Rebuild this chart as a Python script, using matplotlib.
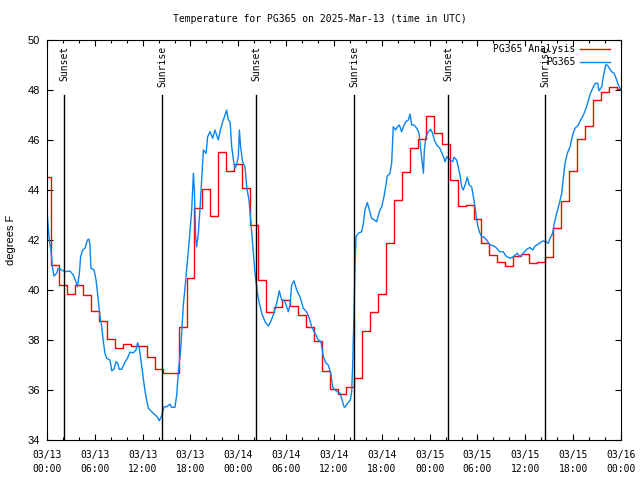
import matplotlib
matplotlib.use("Agg")
import matplotlib.pyplot as plt
import matplotlib.dates as mdates
import numpy as np

START = np.datetime64("2025-03-13T00:00")
RED = "#ff0000"
BLUE = "#0a84f0"
MONO = "DejaVu Sans Mono"
SANS = "Liberation Sans"

# hourly analysis values (hours since start, degrees F)
analysis_hours = np.arange(0, 73)
analysis_temp = [
    44.5, 41.0, 40.2, 39.84, 40.2, 39.8, 39.15, 38.75, 38.03, 37.67,
    37.85, 37.75, 37.75, 37.3, 36.83, 36.68, 36.68, 38.5, 40.47, 43.27,
    44.05, 42.95, 45.5, 44.76, 45.04, 44.07, 42.6, 40.4, 39.1, 39.3,
    39.6, 39.36, 38.99, 38.5, 37.96, 36.75, 36.05, 35.84, 36.1, 36.47,
    38.36, 39.1, 39.84, 41.9, 43.6, 44.72, 45.69, 46.03, 46.96, 46.27,
    45.84, 44.39, 43.36, 43.39, 42.84, 41.87, 41.4, 41.12, 40.97, 41.36,
    41.44, 41.08, 41.1, 41.32, 42.48, 43.57, 44.77, 46.03, 46.56, 47.59,
    47.92, 48.13, 48.03,
]

# station observations (hours since start, degrees F)
obs_hours = [
    0.0, 0.12, 0.29, 0.5, 0.67, 0.88, 1.21, 1.42, 1.84, 2.26, 2.89, 3.3, 3.64, 3.81,
    4.06, 4.22, 4.47, 4.77, 5.06, 5.27, 5.39, 5.52, 5.9, 6.15, 6.44, 6.65, 6.86, 7.07,
    7.27, 7.48, 7.9, 8.11, 8.4, 8.65, 8.86, 9.07, 9.37, 9.78, 10.08, 10.41, 10.83, 11.16,
    11.37, 11.58, 11.79, 12.0, 12.21, 12.42, 12.71, 13.13, 13.55, 13.84, 14.09, 14.38,
    14.68, 15.0, 15.42, 15.63, 16.05, 16.26, 16.49, 16.77, 17.1, 17.39, 17.64, 17.85,
    18.15, 18.36, 18.48, 18.65, 18.77, 18.98, 19.19, 19.4, 19.61, 19.95, 20.15, 20.45,
    20.78, 21.07, 21.49, 21.7, 22.04, 22.33, 22.54, 22.75, 22.96, 23.17, 23.38, 23.58,
    23.79, 24.0, 24.13, 24.29, 24.54, 24.84, 25.05, 25.34, 25.59, 25.8, 26.09, 26.38,
    26.63, 26.93, 27.35, 27.76, 28.05, 28.39, 28.81, 29.14, 29.43, 29.77, 30.06, 30.27,
    30.48, 30.69, 30.98, 31.32, 31.73, 32.15, 32.57, 32.9, 33.2, 33.62, 34.04, 34.37,
    34.66, 35.0, 35.29, 35.58, 35.83, 36.13, 36.42, 36.75, 37.09, 37.25, 37.38, 37.67,
    38.05, 38.22, 38.34, 38.51, 38.64, 38.76, 39.05, 39.47, 39.68, 39.89, 40.18, 40.44,
    40.72, 41.06, 41.35, 41.69, 41.98, 42.27, 42.52, 42.69, 43.02, 43.23, 43.44, 43.74,
    43.95, 44.2, 44.49, 44.7, 45.0, 45.33, 45.54, 45.75, 46.04, 46.38, 46.67, 46.88,
    47.13, 47.21, 47.33, 47.54, 47.83, 48.12, 48.37, 48.58, 48.88, 49.29, 49.72, 49.93,
    50.14, 50.55, 50.88, 51.05, 51.39, 51.59, 51.8, 52.01, 52.22, 52.43, 52.72, 52.97,
    53.27, 53.48, 53.69, 53.9, 54.11, 54.31, 54.52, 54.73, 55.15, 55.57, 55.99, 56.41,
    56.82, 57.24, 57.57, 58.08, 58.49, 58.99, 59.33, 59.75, 60.17, 60.59, 60.92, 61.21,
    61.63, 62.18, 62.59, 62.89, 63.1, 63.44, 63.64, 63.94, 64.27, 64.56, 64.77, 64.98,
    65.27, 65.61, 65.94, 66.23, 66.65, 66.94, 67.28, 67.61, 67.91, 68.2, 68.53, 68.82,
    69.08, 69.24, 69.58, 69.79, 70.08, 70.29, 70.54, 70.84, 71.13, 71.38, 71.67, 72.0,
]
obs_temp = [
    43.23, 42.67, 42.0, 41.6, 40.93, 40.56, 40.67, 40.87, 40.8, 40.73, 40.76, 40.6, 40.33, 40.13,
    40.67, 41.33, 41.6, 41.67, 42.0, 42.03, 41.8, 40.87, 40.8, 40.4, 39.6, 38.93, 38.53, 37.93,
    37.47, 37.27, 37.2, 36.77, 36.83, 37.13, 37.07, 36.83, 36.83, 37.11, 37.27, 37.51, 37.49, 37.6,
    37.89, 37.67, 37.2, 36.67, 36.13, 35.73, 35.27, 35.13, 35.0, 34.93, 34.77, 34.96,
    35.33, 35.33, 35.43, 35.31, 35.31, 35.8, 36.75, 37.6, 39.4, 40.33, 41.2, 42.0,
    43.2, 44.67, 44.0, 42.13, 41.73, 42.27, 43.2, 44.4, 45.6, 45.47, 46.13, 46.33,
    46.07, 46.4, 46.0, 46.33, 46.73, 47.0, 47.2, 46.8, 46.73, 45.73, 45.2, 44.87,
    45.0, 45.33, 46.4, 45.73, 45.13, 44.93, 44.13, 43.6, 42.67, 41.8, 40.7, 39.9,
    39.47, 39.07, 38.73, 38.56, 38.73, 39.0, 39.47, 39.97, 39.6, 39.6, 39.33, 39.13,
    39.4, 40.2, 40.37, 40.0, 39.73, 39.27, 39.13, 38.87, 38.53, 38.27, 38.0, 37.93,
    37.33, 37.07, 37.0, 36.67, 36.13, 36.0, 35.93, 35.87, 35.53, 35.33, 35.31, 35.45,
    35.6, 35.93, 36.93, 39.2, 41.0, 42.13, 42.27, 42.33, 42.67, 43.2, 43.5, 43.2,
    42.87, 42.8, 42.73, 43.13, 43.33, 43.73, 44.2, 44.56, 44.67, 45.07, 46.53, 46.4,
    46.53, 46.6, 46.33, 46.53, 46.73, 46.8, 47.04, 46.6, 46.6, 46.47, 46.27, 45.6,
    44.93, 44.67, 45.6, 46.13, 46.33, 46.43, 46.27, 46.0, 45.8, 45.67, 45.33, 45.13,
    45.33, 45.2, 45.13, 45.31, 45.2, 44.93, 44.6, 44.13, 44.0, 44.2, 44.51, 44.2,
    44.13, 43.73, 43.33, 42.8, 42.47, 42.27, 42.13, 42.13, 42.0, 41.8, 41.77, 41.67,
    41.53, 41.53, 41.36, 41.27, 41.33, 41.47, 41.33, 41.47, 41.63, 41.7, 41.6, 41.76,
    41.84, 41.96, 41.93, 41.87, 42.07, 42.27, 42.67, 43.07, 43.47, 43.87, 44.47, 45.07,
    45.47, 45.73, 46.2, 46.47, 46.6, 46.8, 47.0, 47.27, 47.6, 47.89, 48.13, 48.27,
    48.27, 47.97, 48.13, 48.53, 49.0, 49.0, 48.87, 48.73, 48.67, 48.47, 48.2, 48.0,
]

sun_labels = ["Sunset", "Sunrise", "Sunset", "Sunrise", "Sunset", "Sunrise"]
sun_times = ["2025-03-13T02:08", "2025-03-13T14:26", "2025-03-14T02:13",
             "2025-03-14T14:31", "2025-03-15T02:18", "2025-03-15T14:28"]

series_labels = ["PG365 Analysis", "PG365"]


def to_time(hours):
    return START + (np.asarray(hours) * 60).round().astype("timedelta64[m]")


fig = plt.figure(figsize=(6.4, 4.8), dpi=100)
ax = fig.add_axes([47 / 640, 40 / 480, 574 / 640, 400 / 480])

ax.plot(to_time(analysis_hours), analysis_temp, color=RED, lw=1.0, drawstyle="steps-mid")
ax.plot(to_time(obs_hours), obs_temp, color=BLUE, lw=1.0)

# sunrise / sunset markers
for lab, t in zip(sun_labels, sun_times):
    t = np.datetime64(t)
    ax.plot([t, t], [34, 47.8], color="black", lw=1.0)
    ax.text(t, 49.78, lab, rotation=90, ha="center", va="top",
            family=MONO, fontsize=7)

ax.set_xlim(START, START + np.timedelta64(72, "h"))
ax.set_ylim(34, 50)
ax.set_yticks(np.arange(34, 51, 2))

ax.xaxis.set_major_locator(mdates.HourLocator(byhour=range(0, 24, 6)))
ax.xaxis.set_minor_locator(mdates.HourLocator(byhour=range(0, 24, 2)))
ax.xaxis.set_major_formatter(mdates.DateFormatter("%m/%d\n%H:%M"))

ax.tick_params(axis="both", which="both", direction="in", top=True, right=True,
               color="black", width=0.8)
ax.tick_params(axis="x", which="major", length=4.5, pad=7)
ax.tick_params(axis="x", which="minor", length=2.5)
ax.tick_params(axis="y", which="major", length=4.5, pad=5)
for lab in ax.get_xticklabels():
    lab.set_fontfamily(MONO)
    lab.set_fontsize(7)
    lab.set_linespacing(1.55)
for lab in ax.get_yticklabels():
    lab.set_fontfamily(SANS)
    lab.set_fontsize(8)

for sp in ax.spines.values():
    sp.set_linewidth(0.8)

ax.set_ylabel("degrees F", family=SANS, fontsize=8, labelpad=8)

# gnuplot-style key, text right-justified
for i, (lab, col) in enumerate(zip(series_labels, [RED, BLUE])):
    yk = 0.977 - i * 0.0325
    ax.text(0.92, yk, lab, transform=ax.transAxes, ha="right", va="center",
            family=MONO, fontsize=7)
    ax.plot([0.929, 0.981], [yk, yk], transform=ax.transAxes, color=col, lw=1.0)

fig.text(0.5, 1 - 19 / 480, "Temperature for PG365 on 2025-Mar-13 (time in UTC)",
         ha="center", va="center", family=MONO, fontsize=7)

fig.savefig("out.png", dpi=100)
